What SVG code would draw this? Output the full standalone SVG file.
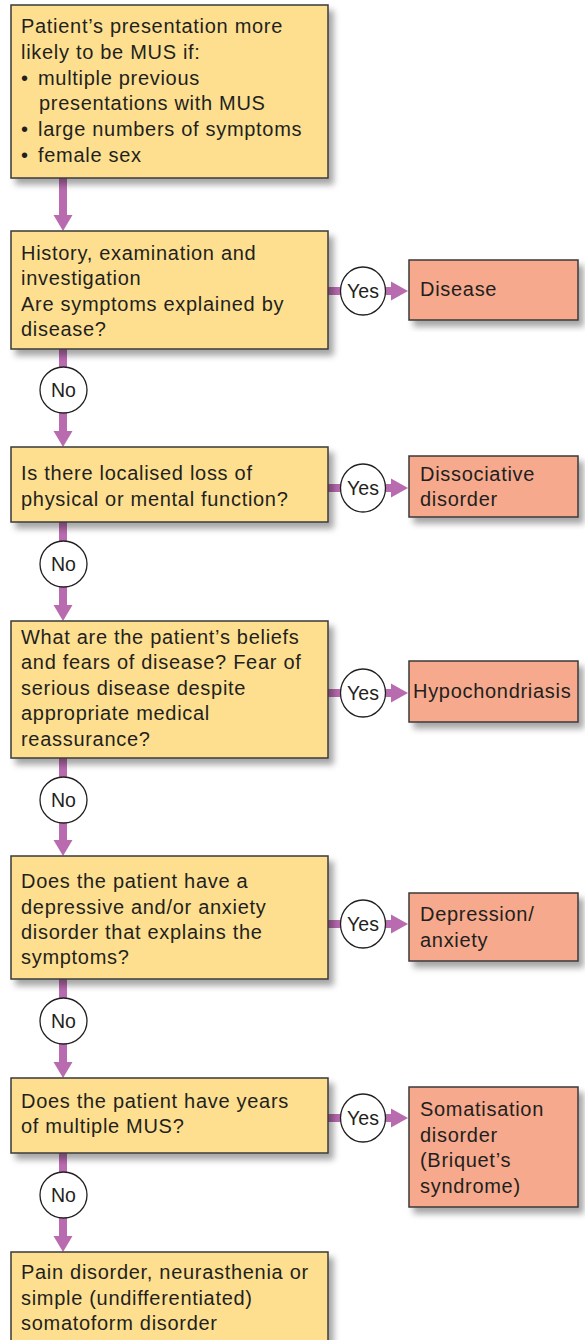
<svg xmlns="http://www.w3.org/2000/svg" width="585" height="1340" viewBox="0 0 585 1340">
<defs>
<style>
.q{fill:#FDDF8F;stroke:#3a3a3a;stroke-width:1.5}
.r{fill:#F6A98C;stroke:#3a3a3a;stroke-width:1.5}
.t{font-family:"Liberation Sans",Arial,sans-serif;font-size:20px;fill:#231f20;letter-spacing:0.7px}
.c{fill:#fff;stroke:#231f20;stroke-width:1.3}
.l{font-family:"Liberation Sans",Arial,sans-serif;font-size:19.5px;fill:#231f20;text-anchor:middle}
.s{fill:none;stroke:#B96BB0;stroke-width:8}
.h{fill:#B96BB0}
</style>
<filter id="sh" x="-10%" y="-10%" width="130%" height="130%">
<feDropShadow dx="5" dy="6" stdDeviation="3" flood-color="#000" flood-opacity="0.35"/>
</filter>
</defs>
<rect width="585" height="1340" fill="#fff"/>

<g id="connectors">
<line class="s" x1="63" y1="178" x2="63" y2="216"/>
<polygon class="h" points="53.5,215 72.5,215 63,231"/>
<line class="s" x1="63" y1="349" x2="63" y2="368"/>
<line class="s" x1="63" y1="412" x2="63" y2="432"/>
<polygon class="h" points="53.5,431 72.5,431 63,447"/>
<line class="s" x1="63" y1="522" x2="63" y2="542"/>
<line class="s" x1="63" y1="586" x2="63" y2="606"/>
<polygon class="h" points="53.5,605 72.5,605 63,621"/>
<line class="s" x1="63" y1="758" x2="63" y2="778"/>
<line class="s" x1="63" y1="822" x2="63" y2="841"/>
<polygon class="h" points="53.5,840 72.5,840 63,856"/>
<line class="s" x1="63" y1="979" x2="63" y2="999"/>
<line class="s" x1="63" y1="1043" x2="63" y2="1063"/>
<polygon class="h" points="53.5,1062 72.5,1062 63,1078"/>
<line class="s" x1="63" y1="1153" x2="63" y2="1173"/>
<line class="s" x1="63" y1="1217" x2="63" y2="1237"/>
<polygon class="h" points="53.5,1236 72.5,1236 63,1252"/>
<line class="s" x1="328" y1="291" x2="342" y2="291"/>
<line class="s" x1="384" y1="291" x2="393" y2="291"/>
<polygon class="h" points="391,281.5 391,300.5 408,291"/>
<line class="s" x1="328" y1="488" x2="342" y2="488"/>
<line class="s" x1="384" y1="488" x2="393" y2="488"/>
<polygon class="h" points="391,478.5 391,497.5 408,488"/>
<line class="s" x1="328" y1="693" x2="342" y2="693"/>
<line class="s" x1="384" y1="693" x2="393" y2="693"/>
<polygon class="h" points="391,683.5 391,702.5 408,693"/>
<line class="s" x1="328" y1="924" x2="342" y2="924"/>
<line class="s" x1="384" y1="924" x2="393" y2="924"/>
<polygon class="h" points="391,914.5 391,933.5 408,924"/>
<line class="s" x1="328" y1="1118" x2="342" y2="1118"/>
<line class="s" x1="384" y1="1118" x2="393" y2="1118"/>
<polygon class="h" points="391,1108.5 391,1127.5 408,1118"/>
<ellipse class="c" cx="63.5" cy="390" rx="23.5" ry="23"/><text class="l" x="63.5" y="397">No</text>
<ellipse class="c" cx="63.5" cy="564" rx="23.5" ry="23"/><text class="l" x="63.5" y="571">No</text>
<ellipse class="c" cx="63.5" cy="800" rx="23.5" ry="23"/><text class="l" x="63.5" y="807">No</text>
<ellipse class="c" cx="63.5" cy="1021" rx="23.5" ry="23"/><text class="l" x="63.5" y="1028">No</text>
<ellipse class="c" cx="63.5" cy="1195" rx="23.5" ry="23"/><text class="l" x="63.5" y="1202">No</text>
<ellipse class="c" cx="363" cy="291" rx="22.5" ry="24"/><text class="l" x="363" y="298">Yes</text>
<ellipse class="c" cx="363" cy="488" rx="22.5" ry="24"/><text class="l" x="363" y="495">Yes</text>
<ellipse class="c" cx="363" cy="693" rx="22.5" ry="24"/><text class="l" x="363" y="700">Yes</text>
<ellipse class="c" cx="363" cy="924" rx="22.5" ry="24"/><text class="l" x="363" y="931">Yes</text>
<ellipse class="c" cx="363" cy="1118" rx="22.5" ry="24"/><text class="l" x="363" y="1125">Yes</text>
</g>

<g id="n1">
<rect class="q" x="11" y="5" width="317" height="173" filter="url(#sh)"/>
<text class="t" x="21" y="33">Patient’s presentation more</text>
<text class="t" x="21" y="59">likely to be MUS if:</text>
<text class="t" x="21" y="85">•</text><text class="t" x="38" y="85">multiple previous</text>
<text class="t" x="39" y="110">presentations with MUS</text>
<text class="t" x="21" y="136">•</text><text class="t" x="38" y="136">large numbers of symptoms</text>
<text class="t" x="21" y="162">•</text><text class="t" x="38" y="162">female sex</text>
</g>

<g id="n2">
<rect class="q" x="11" y="231" width="317" height="118" filter="url(#sh)"/>
<text class="t" x="21" y="260">History, examination and</text>
<text class="t" x="21" y="285">investigation</text>
<text class="t" x="21" y="311">Are symptoms explained by</text>
<text class="t" x="21" y="336">disease?</text>
</g>

<g id="n2y">
<rect class="r" x="409" y="260" width="169" height="60" filter="url(#sh)"/>
<text class="t" x="420" y="296">Disease</text>
</g>

<g id="n3">
<rect class="q" x="11" y="447" width="317" height="75" filter="url(#sh)"/>
<text class="t" x="21" y="480">Is there localised loss of</text>
<text class="t" x="21" y="506">physical or mental function?</text>
</g>

<g id="n3y">
<rect class="r" x="409" y="456" width="169" height="61" filter="url(#sh)"/>
<text class="t" x="420" y="481">Dissociative</text>
<text class="t" x="420" y="506">disorder</text>
</g>

<g id="n4">
<rect class="q" x="11" y="621" width="317" height="137" filter="url(#sh)"/>
<text class="t" x="21" y="644">What are the patient’s beliefs</text>
<text class="t" x="21" y="669">and fears of disease? Fear of</text>
<text class="t" x="21" y="695">serious disease despite</text>
<text class="t" x="21" y="720">appropriate medical</text>
<text class="t" x="21" y="746">reassurance?</text>
</g>

<g id="n4y">
<rect class="r" x="409" y="661" width="169" height="61" filter="url(#sh)"/>
<text class="t" x="413" y="698">Hypochondriasis</text>
</g>

<g id="n5">
<rect class="q" x="11" y="856" width="317" height="123" filter="url(#sh)"/>
<text class="t" x="21" y="888">Does the patient have a</text>
<text class="t" x="21" y="914">depressive and/or anxiety</text>
<text class="t" x="21" y="939">disorder that explains the</text>
<text class="t" x="21" y="964">symptoms?</text>
</g>

<g id="n5y">
<rect class="r" x="409" y="893" width="169" height="68" filter="url(#sh)"/>
<text class="t" x="420" y="921">Depression/</text>
<text class="t" x="420" y="947">anxiety</text>
</g>

<g id="n6">
<rect class="q" x="11" y="1078" width="317" height="75" filter="url(#sh)"/>
<text class="t" x="21" y="1108">Does the patient have years</text>
<text class="t" x="21" y="1133">of multiple MUS?</text>
</g>

<g id="n6y">
<rect class="r" x="409" y="1087" width="169" height="120" filter="url(#sh)"/>
<text class="t" x="420" y="1116">Somatisation</text>
<text class="t" x="420" y="1142">disorder</text>
<text class="t" x="420" y="1167">(Briquet’s</text>
<text class="t" x="420" y="1193">syndrome)</text>
</g>

<g id="n7">
<rect class="q" x="11" y="1252" width="317" height="100" filter="url(#sh)"/>
<text class="t" x="21" y="1279">Pain disorder, neurasthenia or</text>
<text class="t" x="21" y="1305">simple (undifferentiated)</text>
<text class="t" x="21" y="1330">somatoform disorder</text>
</g>
</svg>
